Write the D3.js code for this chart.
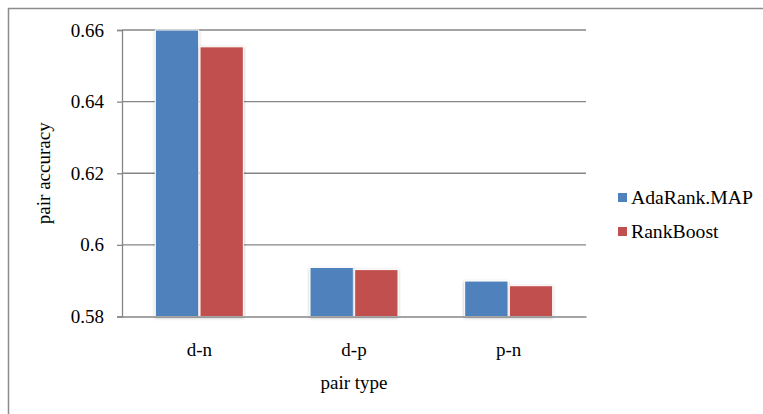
<!DOCTYPE html>
<html>
<head>
<meta charset="utf-8">
<script src="https://cdn.jsdelivr.net/npm/d3@7"></script>
<style>
  html, body { margin: 0; padding: 0; background: #fff; }
  svg { display: block; }
</style>
</head>
<body>
<svg id="chart" width="763" height="414"></svg>
<script>
// Pair accuracy by pair type for two ranking methods
const categories = ["d-n", "d-p", "p-n"];
const seriesNames = ["AdaRank.MAP", "RankBoost"];
const adaRankMAP = [0.6602, 0.5937, 0.5899];
const rankBoost = [0.6553, 0.5931, 0.5886];
const yTicks = [0.58, 0.6, 0.62, 0.64, 0.66];
const yTickLabels = ["0.58", "0.6", "0.62", "0.64", "0.66"];
const colors = ["#4F81BD", "#C0504D"];

const series = [adaRankMAP, rankBoost];
const svg = d3.select("#chart");
const FONT = "'Liberation Serif'";
const FS = "19px";

// chart frame
svg.append("rect")
  .attr("x", 8.5).attr("y", 8.5)
  .attr("width", 800).attr("height", 500)
  .attr("fill", "none").attr("stroke", "#8c8c8c").attr("stroke-width", 1.5);

const plot = { left: 122, right: 586, top: 30, bottom: 316.5 };

const x = d3.scaleBand().domain(categories).range([plot.left, plot.right]);
const xs = d3.scaleBand().domain(d3.range(series.length)).range([-44, 44]).paddingInner(0.03);
const y = d3.scaleLinear().domain([0.58, 0.66]).range([plot.bottom, plot.top]);

// soft shadow under bars
const defs = svg.append("defs");
const f = defs.append("filter").attr("id", "shadow").attr("x", "-20%").attr("y", "-20%").attr("width", "140%").attr("height", "140%");
f.append("feDropShadow").attr("dx", 0).attr("dy", 1).attr("stdDeviation", 1.6).attr("flood-color", "#000").attr("flood-opacity", 0.28);

const clip = defs.append("clipPath").attr("id", "plotclip");
clip.append("rect").attr("x", plot.left).attr("y", plot.top - 1)
  .attr("width", plot.right - plot.left).attr("height", plot.bottom - plot.top + 8);

// gridlines
svg.append("g").selectAll("line").data(yTicks.filter(t => t > 0.58)).join("line")
  .attr("x1", plot.left).attr("x2", plot.right)
  .attr("y1", d => y(d)).attr("y2", d => y(d))
  .attr("stroke", "#868686").attr("stroke-width", 1.3);

// bars
const groups = svg.append("g").attr("clip-path", "url(#plotclip)")
  .selectAll("g").data(categories).join("g")
  .attr("transform", d => `translate(${x(d) + x.bandwidth() / 2},0)`);

groups.selectAll("rect").data((c, i) => series.map((s, k) => ({ k, v: s[i] }))).join("rect")
  .attr("x", d => xs(d.k))
  .attr("width", xs.bandwidth())
  .attr("y", d => y(Math.min(d.v, 0.66)))
  .attr("height", d => y(0.58) - y(Math.min(d.v, 0.66)))
  .attr("fill", d => colors[d.k])
  .attr("stroke", "#fff").attr("stroke-width", 1)
  .attr("filter", "url(#shadow)");

// y axis
const yAxis = d3.axisLeft(y).tickValues(yTicks).tickFormat((d, i) => yTickLabels[i]).tickSize(5).tickPadding(13);
const yg = svg.append("g").attr("transform", `translate(${plot.left},0)`).call(yAxis);
yg.select(".domain").attr("stroke", "#868686").attr("stroke-width", 1.3);
yg.selectAll(".tick line").attr("stroke", "#868686").attr("stroke-width", 1.3);
yg.selectAll(".tick text").attr("fill", "#000").style("font-family", FONT).style("font-size", FS);

// x axis
const xAxis = d3.axisBottom(x).tickSize(0).tickPadding(26);
const xg = svg.append("g").attr("transform", `translate(0,${plot.bottom})`).call(xAxis);
xg.select(".domain").attr("stroke", "#868686").attr("stroke-width", 1.3);
xg.selectAll(".tick text").attr("fill", "#000").style("font-family", FONT).style("font-size", FS);

// axis titles
svg.append("text")
  .attr("x", (plot.left + plot.right) / 2).attr("y", 389)
  .attr("text-anchor", "middle")
  .style("font-family", FONT).style("font-size", FS)
  .text("pair type");

svg.append("text")
  .attr("transform", `translate(50,${(plot.top + plot.bottom) / 2}) rotate(-90)`)
  .attr("text-anchor", "middle")
  .style("font-family", FONT).style("font-size", FS)
  .text("pair accuracy");

// legend
const legend = svg.append("g").selectAll("g").data(seriesNames).join("g")
  .attr("transform", (d, i) => `translate(618,${193 + i * 34})`);
legend.append("rect").attr("width", 9).attr("height", 9).attr("fill", (d, i) => colors[i]);
legend.append("text").attr("x", 13).attr("y", 11)
  .style("font-family", FONT).style("font-size", "19.7px")
  .text(d => d);
</script>
</body>
</html>
